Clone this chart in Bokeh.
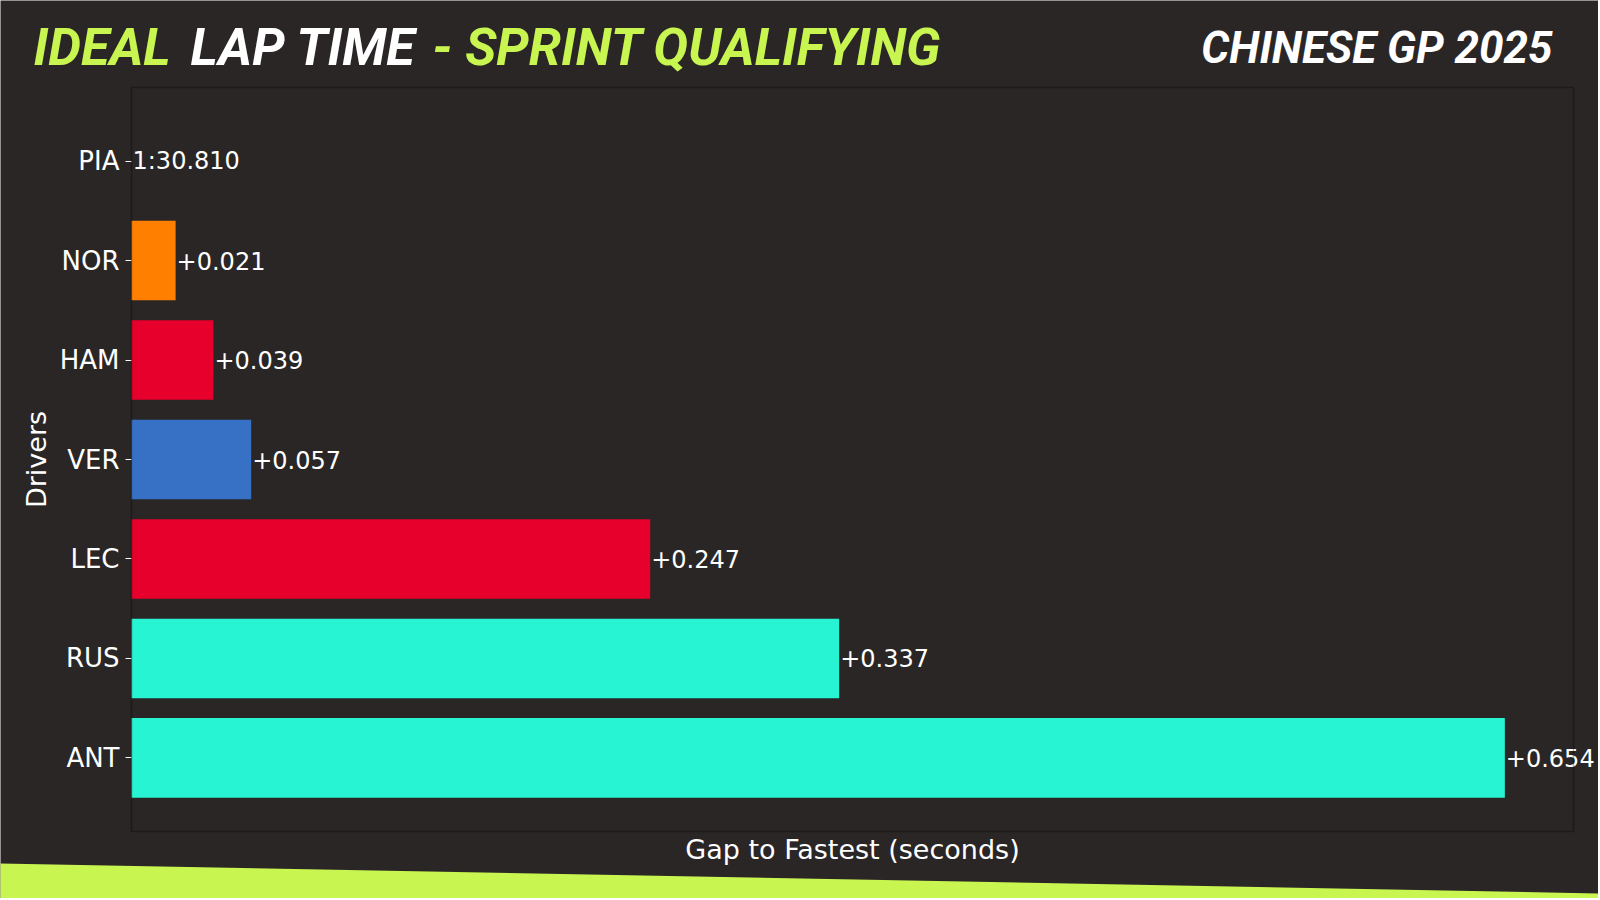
from bokeh.plotting import figure
from bokeh.models import Range1d, ColumnDataSource, Label, FixedTicker, BoxAnnotation, PolyAnnotation, LinearAxis
from bokeh.embed import file_html
from bokeh.resources import INLINE
from bokeh.core.properties import value

# ---- data ----
drivers = ["PIA", "NOR", "HAM", "VER", "LEC", "RUS", "ANT"]
gaps = [0.0, 0.021, 0.039, 0.057, 0.247, 0.337, 0.654]
gap_labels = ["1:30.810", "+0.021", "+0.039", "+0.057", "+0.247", "+0.337", "+0.654"]
bar_colors = ["#FF8000", "#FF8000", "#E8002D", "#3671C6", "#E8002D", "#27F4D2", "#27F4D2"]
title_parts = ["IDEAL", "LAP TIME", "- SPRINT QUALIFYING"]
event_title = "CHINESE GP 2025"
x_label = "Gap to Fastest (seconds)"
y_label = "Drivers"

GREEN = "#c8f550"
WHITE = "#ffffff"
BG = "#2a2626"

# ---- layout (pixels) ----
W, H = 1598, 898
BOX_L, BOX_R, BOX_T, BOX_B = 131, 1573, 87, 831

n = len(drivers)
idx = list(range(n))
BAR_H = 0.8
# axis limits like a default horizontal bar chart: 5% margins
xlim = max(gaps) * 1.05
y_span = (n - 1) + BAR_H
y_top = -BAR_H / 2 - 0.05 * y_span
y_bot = (n - 1) + BAR_H / 2 + 0.05 * y_span

kx = (BOX_R - BOX_L) / xlim
ky = (BOX_B - BOX_T) / (y_bot - y_top)
x_range = Range1d(-BOX_L / kx, (W - BOX_L) / kx)
y_range = Range1d(y_bot + (H - BOX_B) / ky, y_top - BOX_T / ky)

src = ColumnDataSource(dict(pos=idx, gap=gaps, label=gap_labels, color=bar_colors))

p = figure(width=W, height=H, x_range=x_range, y_range=y_range,
           output_backend="svg", toolbar_location=None, min_border=0,
           x_axis_location=None, y_axis_location=None,
           background_fill_color=BG, border_fill_color=BG, outline_line_color=None)
p.grid.visible = False

p.hbar(y="pos", left=0, right="gap", height=BAR_H, color="color", line_color=None, source=src)
p.text(x="gap", y="pos", text="label", source=src, x_offset=1, text_baseline="middle",
       text_align="left", text_font=value("DejaVu Sans"), text_font_size="24px", text_color="white")
p.add_layout(BoxAnnotation(left=0, right=xlim, top=y_top, bottom=y_bot,
                           fill_color=None, line_color="black", line_width=1.6))

# x axis (label only) fixed at the bottom of the plot box
xa = LinearAxis(fixed_location=y_bot, bounds=(0, xlim), ticker=FixedTicker(ticks=[]))
xa.axis_line_color = None
xa.major_tick_line_color = None
xa.minor_tick_line_color = None
xa.major_label_text_font_size = "0px"
xa.major_label_standoff = 0
xa.axis_label = x_label
xa.axis_label_text_font = "DejaVu Sans"
xa.axis_label_text_font_size = "27px"
xa.axis_label_text_font_style = "normal"
xa.axis_label_text_color = "white"
xa.axis_label_standoff = 2
p.add_layout(xa, "below")

# y axis with driver names, fixed at x = 0
ya = LinearAxis(fixed_location=0, bounds=(y_top, y_bot), ticker=FixedTicker(ticks=idx),
                major_label_overrides={i: d for i, d in zip(idx, drivers)})
ya.axis_line_color = None
ya.major_tick_line_color = "white"
ya.major_tick_out = 6
ya.major_tick_in = 0
ya.minor_tick_line_color = None
ya.major_label_standoff = 6
ya.major_label_text_font = "DejaVu Sans"
ya.major_label_text_font_size = "26px"
ya.major_label_text_color = "white"
ya.axis_label = y_label
ya.axis_label_text_font = "DejaVu Sans"
ya.axis_label_text_font_size = "27px"
ya.axis_label_text_font_style = "normal"
ya.axis_label_text_color = "white"
ya.axis_label_standoff = 5
p.add_layout(ya, "left")

# ---- title (screen units, origin bottom-left of canvas) ----
title_x = [33, 190, 432]
title_colors = [GREEN, WHITE, GREEN]
for txt, xx, c in zip(title_parts, title_x, title_colors):
    p.add_layout(Label(x=xx, y=H - 47, x_units="screen", y_units="screen", text=txt,
                       text_font="Roboto", text_font_style="bold italic", text_font_size="52px",
                       text_color=c, text_baseline="alphabetic"))
p.add_layout(Label(x=1552, y=H - 47, x_units="screen", y_units="screen", text=event_title,
                   text_font="Roboto", text_font_style="bold italic", text_font_size="44px",
                   text_color=WHITE, text_align="right", text_baseline="alphabetic"))

# ---- green stripe along the bottom ----
p.add_layout(PolyAnnotation(xs=[-2, W + 2, W + 2, -2], ys=[H - 863, H - 893, -5, -5],
                            xs_units="screen", ys_units="screen",
                            fill_color=GREEN, fill_alpha=1, line_color=None))

open("out.html", "w").write(file_html(p, INLINE))
